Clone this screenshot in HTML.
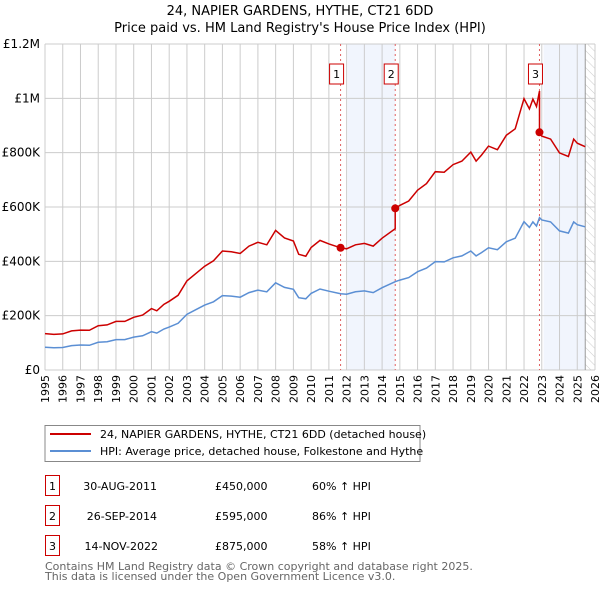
<!DOCTYPE html>
<html><head><meta charset="utf-8"><style>
body{margin:0;background:#fff;font-family:"DejaVu Sans","Liberation Sans",sans-serif}
svg text{font-family:"DejaVu Sans","Liberation Sans",sans-serif}
</style></head><body>
<svg id="chart" width="600" height="590" xmlns="http://www.w3.org/2000/svg">
<defs><pattern id="hatch" width="6" height="6" patternUnits="userSpaceOnUse" patternTransform="rotate(-45)"><line x1="0" y1="0" x2="0" y2="6" stroke="#ccc" stroke-width="1"/></pattern></defs>
<text x="300" y="15" text-anchor="middle" font-size="13">24, NAPIER GARDENS, HYTHE, CT21 6DD</text>
<text x="300" y="32" text-anchor="middle" font-size="13">Price paid vs. HM Land Registry's House Price Index (HPI)</text>
<g id="plot"></g>
<g>
<rect x="45" y="425.5" width="375" height="36" fill="#fff" stroke="#888"/>
<line x1="50" y1="434" x2="91" y2="434" stroke="#cc0000" stroke-width="2"/>
<text x="100" y="438" font-size="11">24, NAPIER GARDENS, HYTHE, CT21 6DD (detached house)</text>
<line x1="50" y1="451" x2="91" y2="451" stroke="#5b8fd4" stroke-width="2"/>
<text x="100" y="455" font-size="11">HPI: Average price, detached house, Folkestone and Hythe</text>
</g>
<g font-size="11">
<rect x="45.5" y="475.5" width="14" height="20" fill="#fff" stroke="#cc0000"/><text x="52.5" y="490" text-anchor="middle">1</text>
<text x="157" y="490" text-anchor="end">30-AUG-2011</text><text x="215" y="490">£450,000</text><text x="312" y="490">60% ↑ HPI</text>
<rect x="45.5" y="505.5" width="14" height="20" fill="#fff" stroke="#cc0000"/><text x="52.5" y="520" text-anchor="middle">2</text>
<text x="157" y="520" text-anchor="end">26-SEP-2014</text><text x="215" y="520">£595,000</text><text x="312" y="520">86% ↑ HPI</text>
<rect x="45.5" y="535.5" width="14" height="20" fill="#fff" stroke="#cc0000"/><text x="52.5" y="550" text-anchor="middle">3</text>
<text x="158" y="550" text-anchor="end">14-NOV-2022</text><text x="215" y="550">£875,000</text><text x="312" y="550">58% ↑ HPI</text>
</g>
<text x="45" y="570" font-size="11" fill="#666">Contains HM Land Registry data © Crown copyright and database right 2025.</text>
<text x="45" y="580" font-size="11" fill="#666">This data is licensed under the Open Government Licence v3.0.</text>
</svg>
<script>
const years=[1995,1996,1997,1998,1999,2000,2001,2002,2003,2004,2005,2006,2007,2008,2009,2010,2011,2012,2013,2014,2015,2016,2017,2018,2019,2020,2021,2022,2023,2024,2025,2026];
const yTicks=[0,200000,400000,600000,800000,1000000,1200000];
const yTickLabels=["£0","£200K","£400K","£600K","£800K","£1M","£1.2M"];
const times=[1995.0,1995.5,1996.0,1996.5,1997.0,1997.5,1998.0,1998.5,1999.0,1999.5,2000.0,2000.5,2001.0,2001.3,2001.7,2002.0,2002.5,2003.0,2003.5,2004.0,2004.5,2005.0,2005.5,2006.0,2006.5,2007.0,2007.5,2008.0,2008.5,2009.0,2009.3,2009.7,2010.0,2010.5,2011.0,2011.66,2012.0,2012.5,2013.0,2013.5,2014.0,2014.74,2014.74,2015.0,2015.5,2016.0,2016.5,2017.0,2017.5,2018.0,2018.5,2019.0,2019.3,2019.6,2020.0,2020.5,2021.0,2021.5,2022.0,2022.3,2022.5,2022.7,2022.87,2022.87,2023.0,2023.5,2024.0,2024.5,2024.8,2025.0,2025.45];
const hpiValues=[84,82,83,90,92,91,102,104,112,112,121,126,141,136,151,158,172,205,222,239,251,274,272,268,285,294,288,321,304,297,266,262,282,298,290,281,279,288,291,285,303,325,325,331,340,362,375,399,398,413,420,438,420,432,450,443,472,485,546,525,545,530,561,561,552,545,512,504,545,535,527];
const priceValues=[134,131,133,144,147,146,163,166,179,179,194,202,226,218,242,253,275,328,355,382,402,438,435,429,456,470,461,514,486,475,426,419,451,477,464,450,446,461,466,456,485,520,595,606,622,662,686,730,728,756,769,802,769,791,824,811,864,888,999,961,997,970,1027,875,861,850,799,786,850,835,822];
const saleTimes=[2011.66,2014.74,2022.87];
const salePrices=[450000,595000,875000];
const saleLabels=["1","2","3"];
const NS="http://www.w3.org/2000/svg";
const X0=45,X1=595,Y0=370,Y1=44;
const xs=t=>X0+(t-1995)/(2026-1995)*(X1-X0);
const ys=v=>Y0-v/1200000*(Y0-Y1);
const g=document.getElementById('plot');
function mk(tag,a){const e=document.createElementNS(NS,tag);for(const k in a)e.setAttribute(k,a[k]);g.appendChild(e);return e;}
let e;
e=mk('rect',{x:xs(2012.05),y:Y1,width:xs(saleTimes[1])-xs(2012.05),height:Y0-Y1,fill:'#eef3fc',opacity:0.8});


e=mk('rect',{x:xs(2023.1),y:Y1,width:xs(2025.45)-xs(2023.1),height:Y0-Y1,fill:'#eef3fc',opacity:0.8});


e=mk('rect',{x:xs(2025.45),y:Y1,width:X1-xs(2025.45),height:Y0-Y1,fill:'url(#hatch)'});


years.forEach(y=>{const x=xs(y);
e=mk('line',{x1:x,y1:Y1,x2:x,y2:Y0,stroke:'#ccc','stroke-width':1});


e=mk('text',{x:0,y:0,'font-size':11,'text-anchor':'end',transform:`translate(${x+4},${Y0+5}) rotate(-90)`});
e.textContent=y;

});
yTicks.forEach((v,i)=>{const y=ys(v);
e=mk('line',{x1:X0,y1:y,x2:X1,y2:y,stroke:'#ccc','stroke-width':1});


e=mk('text',{x:X0-5,y:y+4,'font-size':12,'text-anchor':'end'});
e.textContent=yTickLabels[i];

});
e=mk('line',{x1:xs(2025.45),y1:Y1,x2:xs(2025.45),y2:Y0,stroke:'#999','stroke-width':1});


saleTimes.forEach((t,i)=>{const x=xs(t);
e=mk('line',{x1:x,y1:Y1,x2:x,y2:Y0,stroke:'#e06060','stroke-width':1,'stroke-dasharray':'2,3'});


e=mk('rect',{x:x-11,y:64,width:14,height:20,fill:'#fff',stroke:'#cc0000'});


e=mk('text',{x:x-4,y:78,'font-size':11,'text-anchor':'middle'});
e.textContent=saleLabels[i];

});
const pts=arr=>arr.map((v,i)=>xs(times[i]).toFixed(1)+','+ys(v*1000).toFixed(1)).join(' ');
e=mk('polyline',{points:pts(hpiValues),fill:'none',stroke:'#5b8fd4','stroke-width':1.5});


e=mk('polyline',{points:pts(priceValues),fill:'none',stroke:'#cc0000','stroke-width':1.5});


saleTimes.forEach((t,i)=>{
e=mk('circle',{cx:xs(t),cy:ys(salePrices[i]),r:4,fill:'#cc0000'});

});
</script>
</body></html>
